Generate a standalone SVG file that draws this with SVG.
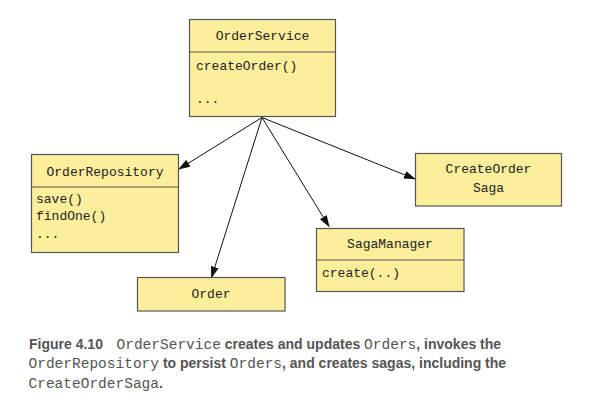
<svg xmlns="http://www.w3.org/2000/svg" width="590" height="402" viewBox="0 0 590 402">
<defs>
<marker id="ah" markerWidth="12" markerHeight="8" refX="11" refY="4" orient="auto" markerUnits="userSpaceOnUse">
<path d="M0,0 L12,4 L0,8 Z" fill="#111"/>
</marker>
<style>
.box{fill:#fcef9c;stroke:#555;stroke-width:1.2}
.div{stroke:#555;stroke-width:1.2}
.m{font-family:"Liberation Mono","DejaVu Sans Mono",monospace;font-size:13px;fill:#222}
.c{text-anchor:middle}
.edge{stroke:#111;stroke-width:1;fill:none;marker-end:url(#ah)}
.cap{font-family:"Liberation Sans",Arial,sans-serif;font-size:14px;font-weight:bold;fill:#555}
.cm{font-family:"Liberation Mono","Courier New",monospace;font-weight:normal;font-size:14.5px}
</style>
</defs>
<rect width="590" height="402" fill="#fff"/>
<g id="connectors">
<line class="edge" x1="262" y1="117.5" x2="179" y2="169"/>
<line class="edge" x1="262" y1="117.5" x2="211.5" y2="277.5"/>
<line class="edge" x1="262" y1="117.5" x2="329" y2="226.5"/>
<line class="edge" x1="262" y1="117.5" x2="415" y2="179"/>
</g>
<g id="OrderService">
<rect class="box" x="189.5" y="19.5" width="146" height="97"/>
<line class="div" x1="189.5" y1="52" x2="335.5" y2="52"/>
<text class="m c" x="262.5" y="40">OrderService</text>
<text class="m" x="196" y="70">createOrder()</text>
<text class="m" x="196" y="103">...</text>
</g>
<g id="OrderRepository">
<rect class="box" x="31.5" y="154.5" width="147" height="98"/>
<line class="div" x1="31.5" y1="187" x2="178.5" y2="187"/>
<text class="m c" x="105" y="175.5">OrderRepository</text>
<text class="m" x="36" y="203">save()</text>
<text class="m" x="36" y="220">findOne()</text>
<text class="m" x="36" y="237.5">...</text>
</g>
<g id="Order">
<rect class="box" x="137.5" y="277.5" width="147.5" height="33.5"/>
<text class="m c" x="211" y="298">Order</text>
</g>
<g id="SagaManager">
<rect class="box" x="316.5" y="228.5" width="147.5" height="63"/>
<line class="div" x1="316.5" y1="260" x2="464" y2="260"/>
<text class="m c" x="390" y="248">SagaManager</text>
<text class="m" x="322" y="277">create(..)</text>
</g>
<g id="CreateOrderSaga">
<rect class="box" x="415.5" y="153.5" width="146" height="52.5"/>
<text class="m c" x="488.5" y="173">CreateOrder</text>
<text class="m c" x="488.5" y="191.5">Saga</text>
</g>
<g id="caption">
<text class="cap" x="29" y="348.5">Figure 4.10<tspan class="cm" x="116.5">OrderService</tspan> creates and updates <tspan class="cm">Orders</tspan>, invokes the</text>
<text class="cap" x="28.5" y="368"><tspan class="cm">OrderRepository</tspan> to persist <tspan class="cm">Orders</tspan>, and creates sagas, including the</text>
<text class="cap" x="28.5" y="387.5"><tspan class="cm">CreateOrderSaga</tspan>.</text>
</g>
</svg>
